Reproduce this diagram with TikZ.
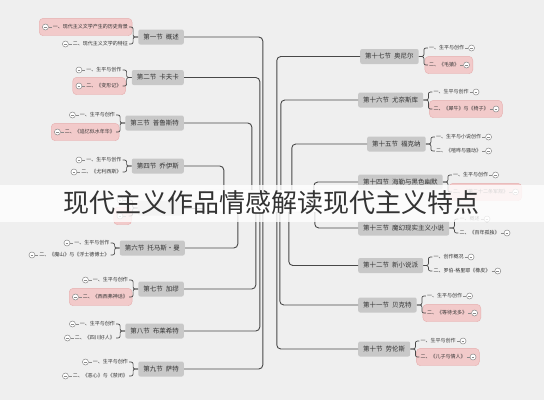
\documentclass[tikz,border=0pt]{standalone}
\usepackage{fontspec}
\setmainfont{Noto Sans CJK SC}
\usetikzlibrary{positioning,fit,calc}
\pgfdeclarelayer{back}
\pgfdeclarelayer{bg}
\pgfsetlayers{back,bg,main}
\definecolor{bgc}{HTML}{EFEFEF}
\definecolor{mainfill}{HTML}{C8C8C8}
\definecolor{linec}{HTML}{484848}
\definecolor{pinkfill}{HTML}{F2CACA}
\definecolor{pinkdraw}{HTML}{E6AFAF}
\definecolor{txt}{HTML}{333333}
\definecolor{icoc}{HTML}{8A8A8A}
\tikzset{
 mainbox/.style={fill=mainfill, rounded corners=2pt, minimum height=15pt, inner xsep=5pt, inner ysep=0pt, font=\fontsize{6.5}{7}\selectfont, text=txt},
 rootbox/.style={fill=white, draw=gray!60, rounded corners=3pt, minimum width=132pt, minimum height=22pt},
 childtxt/.style={inner xsep=1pt, inner ysep=1pt, minimum height=7pt, font=\fontsize{5}{6}\selectfont, text=txt},
 ico/.style={circle, draw=icoc, fill=white, line width=0.5pt, minimum size=6pt, inner sep=0pt,
   path picture={\draw[icoc, line width=0.4pt] ([xshift=-1.4pt]path picture bounding box.center) -- ([xshift=1.4pt]path picture bounding box.center);}},
 pinkbox/.style={fill=pinkfill, draw=pinkdraw, line width=0.4pt, rounded corners=4pt, inner xsep=3pt, inner ysep=5pt},
 conn/.style={draw=linec, line width=0.9pt, rounded corners=4pt},
 brk/.style={draw=linec, line width=0.7pt, rounded corners=2pt},
 tickline/.style={draw=icoc, line width=0.5pt},
 titletxt/.style={font=\fontsize{26}{28}\selectfont, text=txt, inner sep=0pt}
}
\newcommand\lkid[4]{%
 \node[childtxt, anchor=east] (#1) at ($(#2.west)+(-9,#3)$) {#4};
 \node[ico, left=3pt of #1] (#1i) {};
 \draw[tickline] (#1i) -- (#1);
 \draw[brk] (#2.west) -- ++(-5,0) |- (#1.east);
}
\newcommand\rkid[4]{%
 \node[childtxt, anchor=west] (#1) at ($(#2.east)+(9,#3)$) {#4};
 \node[ico, right=3pt of #1] (#1i) {};
 \draw[tickline] (#1) -- (#1i);
 \draw[brk] (#2.east) -- ++(5,0) |- (#1.west);
}
\newcommand\pinkit[1]{%
 \begin{pgfonlayer}{bg}\node[pinkbox, fit=(#1)(#1i)] {};\end{pgfonlayer}
}
\begin{document}
\begin{tikzpicture}[x=1pt,y=-1pt]
\begin{pgfonlayer}{back}
\fill[bgc] (0,0) rectangle (544,400);
\end{pgfonlayer}
\useasboundingbox (0,0) rectangle (544,400);

\node[rootbox] (root) at (269,201) {};

% left main nodes
\node[mainbox, anchor=east] (l1) at (184,37) {第一节\hspace{3pt}概述};
\node[mainbox, anchor=east] (l2) at (184,77.5) {第二节\hspace{3pt}卡夫卡};
\node[mainbox, anchor=east] (l3) at (184,123) {第三节\hspace{3pt}普鲁斯特};
\node[mainbox, anchor=east] (l4) at (184,166) {第四节\hspace{3pt}乔伊斯};
\node[mainbox, anchor=east, minimum width=46pt] (l5) at (184,208) {};
\node[mainbox, anchor=east] (l6) at (185,248) {第六节\hspace{3pt}托马斯·曼};
\node[mainbox, anchor=east] (l7) at (184,289) {第七节\hspace{3pt}加缪};
\node[mainbox, anchor=east] (l8) at (184,331) {第八节\hspace{3pt}布莱希特};
\node[mainbox, anchor=east] (l9) at (184,369) {第九节\hspace{3pt}萨特};

% right main nodes
\node[mainbox, anchor=west] (r17) at (360,56.5) {第十七节\hspace{3pt}奥尼尔};
\node[mainbox, anchor=west] (r16) at (358,100) {第十六节\hspace{3pt}尤奈斯库};
\node[mainbox, anchor=west] (r15) at (367,144) {第十五节\hspace{3pt}福克纳};
\node[mainbox, anchor=west] (r14) at (358,182) {第十四节\hspace{3pt}海勒与黑色幽默};
\node[mainbox, anchor=west] (r13) at (358,228) {第十三节\hspace{3pt}魔幻现实主义小说};
\node[mainbox, anchor=west] (r12) at (358,265.5) {第十二节\hspace{3pt}新小说派};
\node[mainbox, anchor=west] (r11) at (358,305) {第十一节\hspace{3pt}贝克特};
\node[mainbox, anchor=west] (r10) at (358,349) {第十节\hspace{3pt}劳伦斯};

% connectors to root
\draw[conn] (l1.east) -| ([xshift=60pt]root.north west);
\draw[conn] (l2.east) -| ([xshift=57pt]root.north west);
\draw[conn] (l3.east) -| ([xshift=49pt]root.north west);
\draw[conn] (l4.east) -| ([xshift=21pt]root.north west);
\draw[conn] (l5.east) -- (l5.east -| root.west);
\draw[conn] (l6.east) -| ([xshift=35pt]root.south west);
\draw[conn] (l7.east) -| ([xshift=53pt]root.south west);
\draw[conn] (l8.east) -| ([xshift=57pt]root.south west);
\draw[conn] (l9.east) -| ([xshift=60pt]root.south west);
\draw[conn] (r17.west) -| ([xshift=74pt]root.north west);
\draw[conn] (r16.west) -| ([xshift=78pt]root.north west);
\draw[conn] (r15.west) -| ([xshift=89pt]root.north west);
\draw[conn] (r14.west) -| ([xshift=111pt]root.north west);
\draw[conn] (r13.west) -| ([xshift=112pt]root.south west);
\draw[conn] (r12.west) -| ([xshift=86pt]root.south west);
\draw[conn] (r11.west) -| ([xshift=77pt]root.south west);
\draw[conn] (r10.west) -| ([xshift=74pt]root.south west);

% left children
\lkid{l1a}{l1}{-10}{一、现代主义文学产生的历史背景}\pinkit{l1a}
\lkid{l1b}{l1}{7}{二、现代主义文学的特征}
\lkid{l2a}{l2}{-7.5}{一、生平与创作}
\lkid{l2b}{l2}{8.5}{二、《变形记》}\pinkit{l2b}
\lkid{l3a}{l3}{-8}{一、生平与创作}
\lkid{l3b}{l3}{9}{二、《追忆似水年华》}\pinkit{l3b}
\lkid{l4a}{l4}{-6}{一、生平与创作}
\lkid{l4b}{l4}{6}{二、《尤利西斯》}
\lkid{l5a}{l5}{-8}{\hspace{33pt}}
\lkid{l5b}{l5}{8}{\hspace{38pt}}\pinkit{l5b}
\lkid{l6a}{l6}{-5}{一、生平与创作}
\lkid{l6b}{l6}{7}{二、《魔山》与《浮士德博士》}
\lkid{l7a}{l7}{-9}{一、生平与创作}
\lkid{l7b}{l7}{8}{二、《西西弗神话》}\pinkit{l7b}
\lkid{l8a}{l8}{-7}{一、生平与创作}
\lkid{l8b}{l8}{7}{二、《四川好人》}
\lkid{l9a}{l9}{-7}{一、生平与创作}
\lkid{l9b}{l9}{7}{二、《恶心》与《禁闭》}

% right children
\rkid{r17a}{r17}{-8.5}{一、生平与创作}
\rkid{r17b}{r17}{8.5}{二、《毛猿》}\pinkit{r17b}
\rkid{r16a}{r16}{-8}{一、生平与创作}
\rkid{r16b}{r16}{9}{二、《犀牛》与《椅子》}\pinkit{r16b}
\rkid{r15a}{r15}{-7}{一、生平与小说创作}
\rkid{r15b}{r15}{7}{二、《喧哗与骚动》}
\rkid{r14a}{r14}{-7}{一、生平与创作}
\rkid{r14b}{r14}{10}{二、《第二十二条军规》}\pinkit{r14b}
\rkid{r13a}{r13}{-9}{一、概述}
\rkid{r13b}{r13}{5}{二、《百年孤独》}
\rkid{r12a}{r12}{-8.5}{一、创作概况}
\rkid{r12b}{r12}{5.5}{二、罗伯-格里耶《橡皮》}
\rkid{r11a}{r11}{-9}{一、生平与创作}
\rkid{r11b}{r11}{8}{二、《等待戈多》}\pinkit{r11b}
\rkid{r10a}{r10}{-8}{一、生平与创作}
\rkid{r10b}{r10}{8}{二、《儿子与情人》}\pinkit{r10b}

% overlay band and title
\fill[white, opacity=0.8] (0,185) rectangle (544,222);
\node[titletxt] (title) at (271.5,203) {现代主义作品情感解读现代主义特点};
\end{tikzpicture}
\end{document}
